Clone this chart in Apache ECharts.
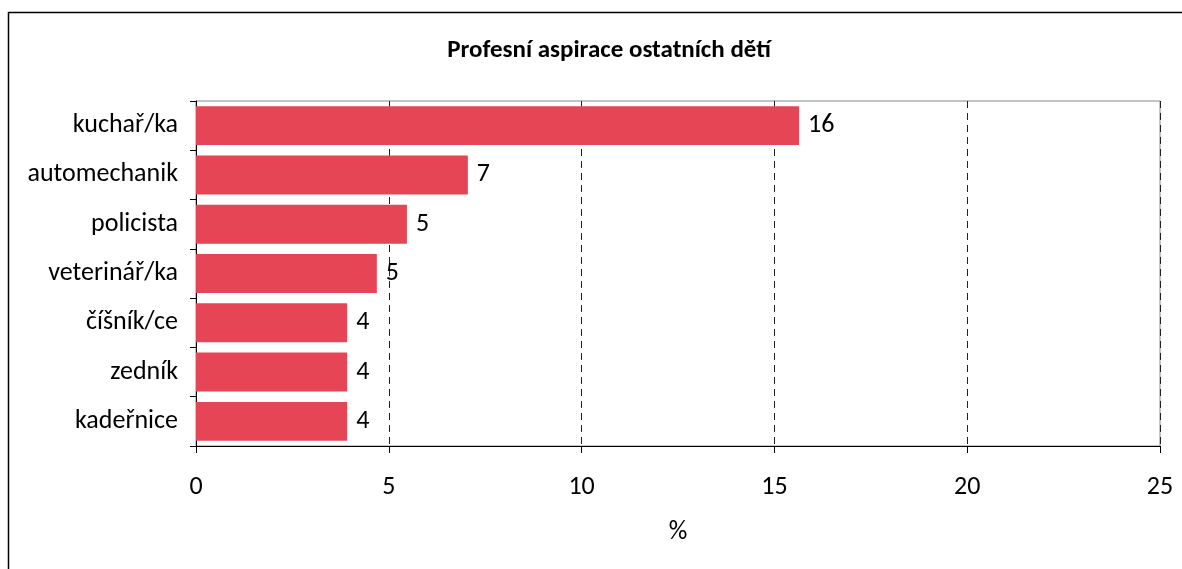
<!DOCTYPE html>
<html>
<head>
<meta charset="utf-8">
<script src="https://cdn.jsdelivr.net/npm/echarts@6/dist/echarts.min.js"></script>
<style>
  html, body { margin: 0; padding: 0; background: #fff; }
  #main { width: 1182px; height: 569px; }
</style>
</head>
<body>
<div id="main"></div>
<script>
// data
var categories = ['kuchař/ka', 'automechanik', 'policista', 'veterinář/ka', 'číšník/ce', 'zedník', 'kadeřnice'];
var values = [15.64, 7.05, 5.47, 4.69, 3.92, 3.92, 3.92];
var xTicks = [0, 5, 10, 15, 20, 25];

var fontFam = 'Carlito, Lato, "Open Sans", sans-serif';

var chart = echarts.init(document.getElementById('main'));
chart.setOption({
  animation: false,
  backgroundColor: '#fff',
  textStyle: { fontFamily: fontFam },
  title: {
    text: 'Profesní aspirace ostatních dětí',
    left: 604,
    textAlign: 'center',
    top: 33,
    textStyle: { fontSize: 25, fontWeight: 'bold', color: '#000', fontFamily: fontFam }
  },
  // outer chart frame (cropped: only top and left visible)
  graphic: [{
    type: 'rect',
    shape: { x: 8.5, y: 12.5, width: 1400, height: 800 },
    style: { fill: null, stroke: '#000', lineWidth: 1.5 },
    silent: true
  }],
  grid: {
    left: 196,
    right: 22,
    top: 101,
    bottom: 123,
    show: true,
    borderColor: '#888',
    borderWidth: 1
  },
  xAxis: {
    type: 'value',
    min: xTicks[0],
    max: xTicks[xTicks.length - 1],
    interval: 5,
    name: '%',
    nameLocation: 'middle',
    nameGap: 73,
    nameTextStyle: { fontSize: 26, color: '#000' },
    axisLine: { show: true, lineStyle: { color: '#000', width: 1 } },
    axisTick: { show: true, length: 7, lineStyle: { color: '#000' } },
    axisLabel: { fontSize: 26, color: '#000', margin: 28 },
    splitLine: { show: true, lineStyle: { color: '#222', type: [7, 5], width: 1 } }
  },
  yAxis: {
    type: 'category',
    data: categories,
    inverse: true,
    axisLine: { show: true, lineStyle: { color: '#000', width: 1 } },
    axisTick: { show: true, length: 6, lineStyle: { color: '#000' } },
    axisLabel: { fontSize: 26, color: '#000', margin: 18 },
    splitLine: { show: false }
  },
  series: [{
    type: 'bar',
    data: values,
    barCategoryGap: '21%',
    itemStyle: { color: '#E64555' },
    label: {
      show: true,
      position: 'right',
      distance: 9,
      fontSize: 26,
      color: '#000',
      formatter: function (p) { return Math.round(p.value); }
    }
  }]
});
</script>
</body>
</html>
